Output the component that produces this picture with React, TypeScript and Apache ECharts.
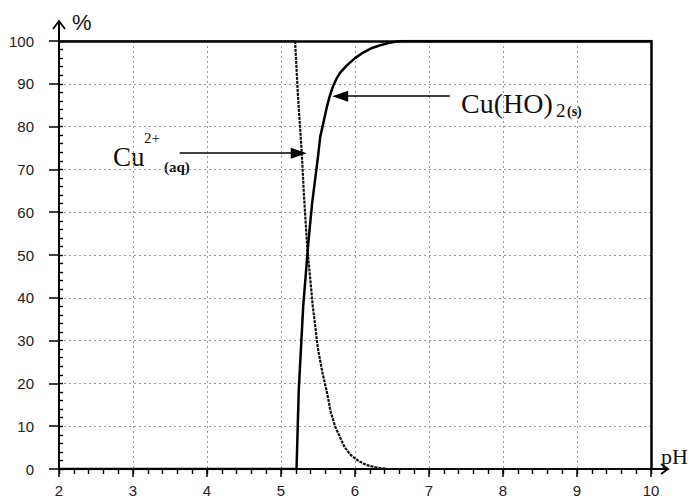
import React, { useEffect, useRef } from "react";
import * as echarts from "echarts";

const xTicks = [2, 3, 4, 5, 6, 7, 8, 9, 10];
const yTicks = [0, 10, 20, 30, 40, 50, 60, 70, 80, 90, 100];

// Cu2+ (aq) fraction (%) vs pH
const cu2Ph = [2, 5.19, 5.23, 5.28, 5.31, 5.35, 5.37, 5.43, 5.5, 5.56, 5.62, 5.67, 5.73, 5.8, 5.86, 5.94, 6.03, 6.12, 6.2, 6.34, 6.45, 10];
const cu2Pct = [100, 100, 87, 74, 64, 53, 49, 38, 28, 22.5, 18, 13.5, 10, 7.3, 5.1, 3.3, 2.1, 1.2, 0.7, 0.2, 0, 0];

// Cu(OH)2 (s) fraction (%) vs pH
const cuohPh = [2, 5.21, 5.24, 5.3, 5.37, 5.42, 5.46, 5.5, 5.53, 5.58, 5.62, 5.66, 5.7, 5.75, 5.8, 5.89, 6.0, 6.11, 6.22, 6.34, 6.45, 6.54, 6.65, 10];
const cuohPct = [0, 0, 18.5, 38, 53, 62, 67.5, 73, 77.6, 81.5, 84.6, 87.2, 89.3, 91.2, 92.6, 94.3, 96, 97.3, 98.3, 99, 99.5, 99.8, 100, 100];

// annotation arrows [pH start, pH end, %]
const arrowCu2 = [3.63, 5.24, 73.8];
const arrowCuOH = [7.28, 5.8, 87.1];

export default function App() {
  const ref = useRef<HTMLDivElement>(null);
  useEffect(() => {
    document.body.style.margin = "0";
    if (!ref.current) return;
    const chart = echarts.init(ref.current, null, { renderer: "svg" });
    const serif = "Liberation Serif";
    const sans = "Liberation Sans";
    const gridLine = { show: true, lineStyle: { color: "#9a9a9a", width: 1, type: [2, 3] as any } };
    const txt = (x: number, y: number, text: string, size: number, family: string, weight = "normal") => ({
      type: "text",
      x,
      y,
      style: { text, fontSize: size, fontFamily: family, fontWeight: weight, fill: "#111", verticalAlign: "middle" },
    });
    const xMin = xTicks[0];
    const xMax = xTicks[xTicks.length - 1];
    const yMin = yTicks[0];
    const yMax = yTicks[yTicks.length - 1];
    const hidden = { axisLabel: { show: false }, splitLine: { show: false } };
    const option: any = {
      animation: false,
      backgroundColor: "#ffffff",
      grid: { left: 59, right: 41, top: 41, bottom: 32 },
      xAxis: [
        {
          type: "value",
          min: xMin,
          max: xMax,
          interval: 1,
          axisLine: { show: true, onZero: false, lineStyle: { color: "#000", width: 2 } },
          axisTick: { show: true, length: 8, lineStyle: { color: "#000", width: 1.5 } },
          axisLabel: { color: "#222", fontFamily: sans, fontSize: 15, margin: 14 },
          splitLine: gridLine,
        },
        {
          type: "value",
          position: "top",
          min: xMin,
          max: xMax,
          axisLine: { show: true, onZero: false, lineStyle: { color: "#000", width: 2.5 } },
          axisTick: { show: false },
          ...hidden,
        },
        {
          type: "value",
          position: "bottom",
          min: xMin,
          max: xMax,
          interval: 0.2,
          axisLine: { show: false, onZero: false },
          axisTick: { show: true, length: 5, lineStyle: { color: "#000", width: 1.4 } },
          ...hidden,
        },
      ],
      yAxis: [
        {
          type: "value",
          min: yMin,
          max: yMax,
          interval: 10,
          axisLine: { show: true, onZero: false, lineStyle: { color: "#000", width: 2 } },
          axisTick: { show: true, length: 10, lineStyle: { color: "#000", width: 1.5 } },
          axisLabel: { color: "#222", fontFamily: sans, fontSize: 15, margin: 25 },
          splitLine: gridLine,
        },
        {
          type: "value",
          position: "right",
          min: yMin,
          max: yMax,
          axisLine: { show: true, onZero: false, lineStyle: { color: "#000", width: 2.5 } },
          axisTick: { show: false },
          ...hidden,
        },
        {
          type: "value",
          position: "left",
          min: yMin,
          max: yMax,
          interval: 2,
          axisLine: { show: false, onZero: false },
          axisTick: { show: true, inside: true, length: 4, lineStyle: { color: "#000", width: 1.4 } },
          ...hidden,
        },
      ],
      series: [
        {
          name: "Cu2+",
          type: "line",
          symbol: "none",
          data: cu2Ph.map((x, i) => [x, cu2Pct[i]]),
          lineStyle: { color: "#111", width: 2.2, type: [3, 1] },
          z: 3,
        },
        {
          name: "Cu(OH)2",
          type: "line",
          symbol: "none",
          data: cuohPh.map((x, i) => [x, cuohPct[i]]),
          lineStyle: { color: "#000", width: 2.5, join: "round" },
          z: 4,
          markLine: {
            silent: true,
            symbol: ["none", "triangle"],
            symbolSize: [11, 16],
            label: { show: false },
            lineStyle: { color: "#000", width: 1.6, type: "solid" },
            data: [
              [{ coord: [arrowCu2[0], arrowCu2[2]] }, { coord: [arrowCu2[1], arrowCu2[2]] }],
              [{ coord: [arrowCuOH[0], arrowCuOH[2]] }, { coord: [arrowCuOH[1], arrowCuOH[2]] }],
            ],
          },
        },
      ],
      graphic: [
        { type: "polyline", shape: { points: [[59, 42], [59, 22]] }, style: { stroke: "#000", lineWidth: 2, fill: null } },
        { type: "polyline", shape: { points: [[53, 29], [59, 21], [65, 29]] }, style: { stroke: "#000", lineWidth: 1.8, fill: null } },
        { type: "polyline", shape: { points: [[650, 469], [668, 469]] }, style: { stroke: "#000", lineWidth: 2, fill: null } },
        { type: "polyline", shape: { points: [[661, 464], [668, 469], [661, 474]] }, style: { stroke: "#000", lineWidth: 1.8, fill: null } },
        txt(72, 22, "%", 22, sans),
        txt(661, 456, "pH", 22, serif),
        txt(113, 157, "Cu", 27, serif),
        txt(144, 138, "2+", 15, serif),
        txt(164, 167, "(aq)", 15, serif, "bold"),
        txt(461, 103, "Cu(HO)", 28, serif),
        txt(556, 110, "2", 19, serif),
        txt(567, 111, "(s)", 14, serif, "bold"),
      ],
    };
    chart.setOption(option);
    return () => chart.dispose();
  }, []);
  return <div ref={ref} style={{ width: 692, height: 501 }} />;
}
